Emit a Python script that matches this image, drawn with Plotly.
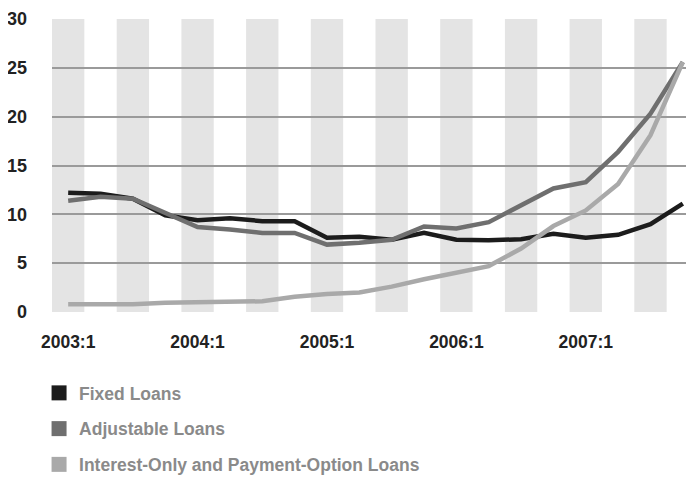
import plotly.graph_objects as go

quarters = [f"{y}:{q}" for y in range(2003, 2008) for q in range(1, 5)]
tick_labels = ["2003:1", "2004:1", "2005:1", "2006:1", "2007:1"]
y_ticks = [0, 5, 10, 15, 20, 25, 30]

fixed_loans = [12.2, 12.1, 11.6, 9.9, 9.4, 9.6, 9.3, 9.3, 7.6, 7.7,
               7.4, 8.1, 7.4, 7.35, 7.45, 8.0, 7.6, 7.9, 9.0, 11.1]
adjustable_loans = [11.4, 11.8, 11.6, 10.1, 8.7, 8.45, 8.1, 8.1, 6.9, 7.1,
                    7.4, 8.75, 8.55, 9.2, 10.9, 12.65, 13.3, 16.4, 20.3, 25.6]
io_po_loans = [0.8, 0.75, 0.8, 0.95, 1.0, 1.0, 1.1, 1.55, 1.85, 2.0,
               2.6, 3.35, 4.0, 4.7, 6.5, 8.8, 10.4, 13.1, 18.1, 25.6]

series = [
    ("Fixed Loans", fixed_loans, "#1c1c1c"),
    ("Adjustable Loans", adjustable_loans, "#6f6f6f"),
    ("Interest-Only and Payment-Option Loans", io_po_loans, "#a9a9a9"),
]

FONT = "Liberation Sans Narrow, Arial Narrow, Liberation Sans, sans-serif"
xs = list(range(len(quarters)))

fig = go.Figure()
for name, vals, col in series:
    fig.add_trace(go.Scatter(
        x=xs, y=vals, mode="lines", name=name,
        line=dict(color=col, width=4.5), showlegend=False,
        customdata=quarters, hovertemplate="%{customdata}: %{y}<extra>" + name + "</extra>",
    ))
for i, (name, vals, col) in enumerate(series):
    fig.add_trace(go.Scatter(
        x=[None], y=[None], mode="markers", name=name,
        marker=dict(symbol="square", size=15, color=col),
        legendgroup=f"g{i}", showlegend=True,
    ))

for i in range(0, len(quarters), 2):
    fig.add_vrect(x0=i - 0.5, x1=i + 0.5, fillcolor="#e4e4e4",
                  line_width=0, layer="below")

fig.update_layout(
    width=694, height=477,
    margin=dict(l=44, r=3, t=11, b=173, autoexpand=False),
    paper_bgcolor="white", plot_bgcolor="white",
    font=dict(family=FONT, size=17, color="#222222", weight="bold"),
    xaxis=dict(
        range=[-0.5, 19.5], showgrid=False, zeroline=False, automargin=False,
        tickmode="array", tickvals=[quarters.index(t) for t in tick_labels],
        ticktext=tick_labels, ticks="", ticklabelstandoff=17,
        tickfont=dict(family=FONT, size=17.5, color="#222222", weight="bold"),
    ),
    yaxis=dict(
        range=[0, 30], showgrid=True, gridcolor="#9a9a9a", automargin=False,
        gridwidth=1.5, zeroline=False, ticks="", ticklabelstandoff=24,
        tickmode="array", tickvals=y_ticks, ticktext=[str(v) for v in y_ticks],
        tickfont=dict(family=FONT, size=18, color="#222222", weight="bold"),
    ),
    legend=dict(
        x=-0.02, xanchor="left", y=-0.215, yanchor="top",
        font=dict(family=FONT, size=17.5, color="#8a8a8a", weight="bold"),
        tracegroupgap=10, itemwidth=30, bgcolor="rgba(0,0,0,0)",
        traceorder="grouped",
    ),
)

fig.write_html("out.html")
